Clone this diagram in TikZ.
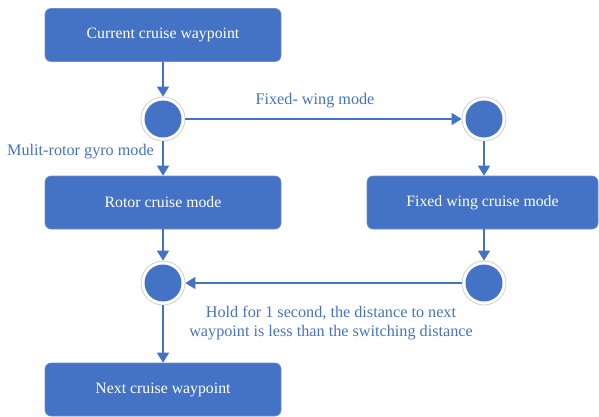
\documentclass[tikz,border=0pt]{standalone}
\usepackage{fontspec}
\setmainfont{Liberation Serif}
\usetikzlibrary{arrows.meta}
\definecolor{flowblue}{HTML}{4472C4}
\definecolor{ringgray}{HTML}{D0D0D0}
\begin{document}
\begin{tikzpicture}[x=1pt,y=-1pt,
  every node/.style={font=\fontsize{15.8}{18}\selectfont},
  stepbox/.style={rectangle, rounded corners=6pt, fill=flowblue, draw=flowblue!80!white, line width=0.6pt,
    minimum width=236pt, minimum height=53pt, text=white, inner sep=0pt},
  widebox/.style={stepbox, minimum width=231pt},
  junction/.style={circle, fill=white, draw=ringgray, line width=0.8pt, minimum size=44pt, inner sep=0pt,
    path picture={\fill[flowblue] (path picture bounding box.center) circle (18.5pt);}},
  conn/.style={draw=flowblue, line width=1.6pt, -{Triangle[length=10pt,width=12pt]}},
  lbl/.style={text=flowblue, inner sep=0pt, font=\fontsize{16.2}{19}\selectfont}
]
\useasboundingbox (0,0) rectangle (599,417);
\node[stepbox] (cur) at (163,35) {Current cruise waypoint};
\node[junction] (j1) at (163,119) {};
\node[junction] (j2) at (484,119) {};
\node[stepbox] (rotor) at (163,202.5) {Rotor cruise mode};
\node[widebox] (fixed) at (482.5,202.5) {Fixed wing cruise mode};
\node[junction] (j3) at (163,283) {};
\node[junction] (j4) at (484,283) {};
\node[stepbox] (next) at (163,389.5) {Next cruise waypoint};

\draw[conn] (cur) -- (j1);
\draw[conn] (j1) -- (rotor);
\draw[conn] (j1) -- (j2);
\draw[conn] (j2) -- (j2 |- fixed.north);
\draw[conn] (rotor) -- (j3);
\draw[conn] (j4 |- fixed.south) -- (j4);
\draw[conn] (j4) -- (j3);
\draw[conn] (j3) -- (next);

\node[lbl] (l1) at (315,101) {Fixed- wing mode};
\node[lbl, anchor=west] (l2) at (7,152) {Mulit-rotor gyro mode};
\node[lbl, align=center] (l3) at (331,323.5) {Hold for 1 second, the distance to next\\waypoint is less than the switching distance};
\end{tikzpicture}
\end{document}
